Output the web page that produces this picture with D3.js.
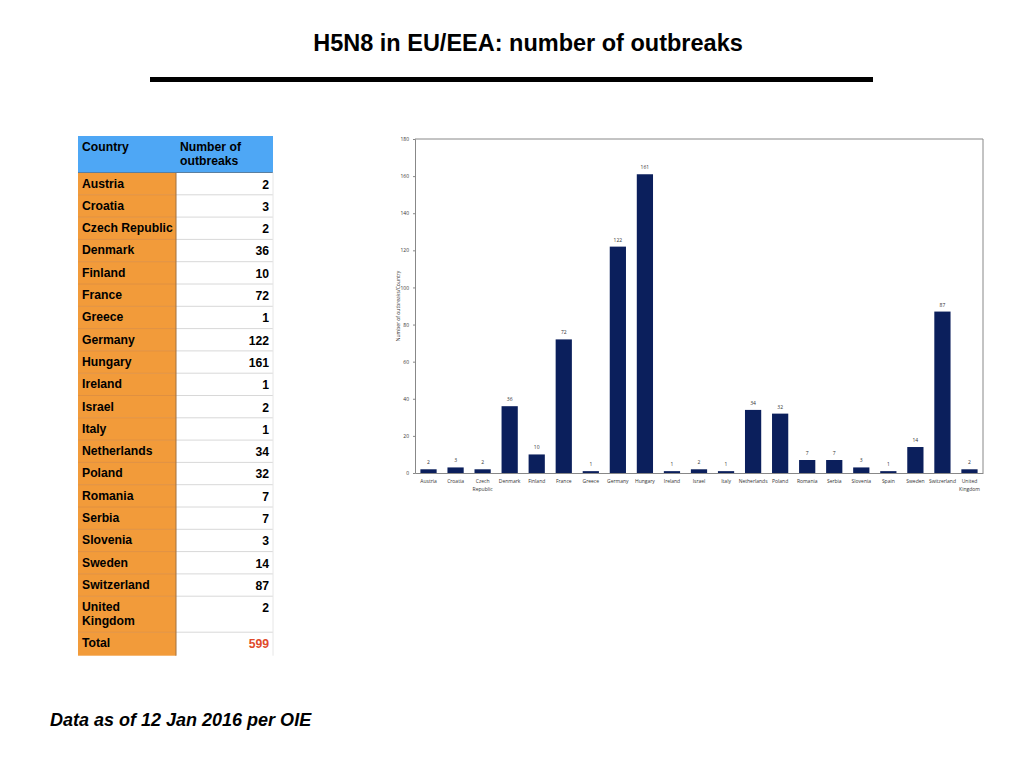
<!DOCTYPE html>
<html>
<head>
<meta charset="utf-8">
<script src="https://cdn.jsdelivr.net/npm/d3@7.9.0/dist/d3.min.js"></script>
<style>
  body { margin: 0; background: #fff; }
  svg { display: block; }
</style>
</head>
<body>
<script>
// Table data (no Spain in the table)
const tableCountries = ["Austria", "Croatia", "Czech Republic", "Denmark", "Finland", "France", "Greece",
  "Germany", "Hungary", "Ireland", "Israel", "Italy", "Netherlands", "Poland", "Romania", "Serbia",
  "Slovenia", "Sweden", "Switzerland", "United Kingdom"];
const tableValues = [2, 3, 2, 36, 10, 72, 1, 122, 161, 1, 2, 1, 34, 32, 7, 7, 3, 14, 87, 2];
const tableTotal = 599;

// Chart data
const chartCountries = ["Austria", "Croatia", "Czech Republic", "Denmark", "Finland", "France", "Greece",
  "Germany", "Hungary", "Ireland", "Israel", "Italy", "Netherlands", "Poland", "Romania", "Serbia",
  "Slovenia", "Spain", "Sweden", "Switzerland", "United Kingdom"];
const chartValues = [2, 3, 2, 36, 10, 72, 1, 122, 161, 1, 2, 1, 34, 32, 7, 7, 3, 1, 14, 87, 2];
const yTicks = [0, 20, 40, 60, 80, 100, 120, 140, 160, 180];

const svg = d3.select("body").append("svg").attr("width", 1024).attr("height", 768);
const sans = "'Liberation Sans', Arial, Helvetica, sans-serif";

// Title and rule
svg.append("text")
  .attr("x", 528).attr("y", 51)
  .attr("text-anchor", "middle")
  .style("font-family", sans).style("font-weight", "bold").style("font-size", "23.5px")
  .text("H5N8 in EU/EEA: number of outbreaks");
svg.append("rect").attr("x", 150).attr("y", 77).attr("width", 723).attr("height", 5).attr("fill", "#000");

// Footer
svg.append("text")
  .attr("x", 50).attr("y", 726)
  .style("font-family", sans).style("font-weight", "bold").style("font-style", "italic").style("font-size", "18px")
  .text("Data as of 12 Jan 2016 per OIE");

// ---- Table ----
const tX = 78, tMid = 176, tR = 273, headTop = 136, headBot = 172.5;
const rowH = 22.3;
const cellFont = "12.2px";
const rows = tableCountries.map((c, i) => ({ name: c, value: tableValues[i], h: c === "United Kingdom" ? 36 : rowH }));
rows.push({ name: "Total", value: tableTotal, h: 23.5, total: true });
let yy = headBot;
rows.forEach(r => { r.y = yy; yy += r.h; });

const table = svg.append("g");
table.append("rect").attr("x", tX).attr("y", headTop).attr("width", tR - tX).attr("height", headBot - headTop).attr("fill", "#4ea7f5");
table.append("text").attr("x", tX + 4).attr("y", headTop + 15)
  .style("font-family", sans).style("font-weight", "bold").style("font-size", cellFont).text("Country");
table.append("text").attr("x", tMid + 4).attr("y", headTop + 15)
  .style("font-family", sans).style("font-weight", "bold").style("font-size", cellFont)
  .selectAll("tspan").data(["Number of", "outbreaks"]).enter().append("tspan")
  .attr("x", tMid + 4).attr("dy", (d, i) => i ? 14 : 0).text(d => d);

const rg = table.selectAll("g.row").data(rows).enter().append("g").attr("class", "row");
rg.append("rect").attr("x", tX).attr("y", d => d.y).attr("width", tMid - tX).attr("height", d => d.h).attr("fill", "#f29b3a");
rg.append("rect").attr("x", tMid).attr("y", d => d.y).attr("width", tR - tMid).attr("height", d => d.h).attr("fill", "#fff");
rg.append("line").attr("x1", tX).attr("x2", tMid).attr("y1", d => d.y).attr("y2", d => d.y)
  .attr("stroke", "#e09040").attr("stroke-width", 1);
rg.append("line").attr("x1", tMid).attr("x2", tR).attr("y1", d => d.y).attr("y2", d => d.y)
  .attr("stroke", "#d8d8d8").attr("stroke-width", 1);
rg.append("text").attr("x", tX + 4).attr("y", d => d.y + 15)
  .style("font-family", sans).style("font-weight", "bold").style("font-size", cellFont)
  .each(function(d) {
    const parts = d.name === "United Kingdom" ? ["United", "Kingdom"] : [d.name];
    d3.select(this).selectAll("tspan").data(parts).enter().append("tspan")
      .attr("x", tX + 4).attr("dy", (p, i) => i ? 14 : 0).text(p => p);
  });
rg.append("text").attr("x", tR - 4).attr("y", d => d.y + 16)
  .attr("text-anchor", "end")
  .attr("fill", d => d.total ? "#e04a2a" : "#000")
  .style("font-family", sans).style("font-weight", "bold").style("font-size", cellFont)
  .text(d => d.value);
table.append("line").attr("x1", tMid).attr("x2", tMid).attr("y1", headBot).attr("y2", yy)
  .attr("stroke", "#a07040").attr("stroke-width", 1);
table.append("line").attr("x1", tX).attr("x2", tR).attr("y1", headBot).attr("y2", headBot)
  .attr("stroke", "#5a7fa0").attr("stroke-width", 1);
table.append("line").attr("x1", tR).attr("x2", tR).attr("y1", headBot).attr("y2", yy)
  .attr("stroke", "#e6e6e6").attr("stroke-width", 1);

// ---- Bar chart ----
const cL = 415, cR = 983, cT = 139, cB = 473;
const chartFont = "'Open Sans', 'DejaVu Sans', sans-serif";
const x = d3.scaleBand().domain(chartCountries).range([cL, cR]).paddingInner(0.4).paddingOuter(0.2);
const y = d3.scaleLinear().domain([0, 180]).range([cB, cT]);

const chart = svg.append("g");
// frame (top, right)
chart.append("path").attr("d", `M${cL},${cT}H${cR}V${cB}`).attr("fill", "none").attr("stroke", "#888").attr("stroke-width", 1);

const yAxis = chart.append("g").attr("transform", `translate(${cL},0)`)
  .call(d3.axisLeft(y).tickValues(yTicks).tickSize(2).tickPadding(4));
yAxis.select(".domain").attr("stroke", "#888");
yAxis.selectAll(".tick line").attr("stroke", "#888");
yAxis.selectAll("text").style("font-family", chartFont).style("font-size", "5px").attr("fill", "#333");

chart.selectAll("rect.bar").data(chartValues).enter().append("rect").attr("class", "bar")
  .attr("x", (d, i) => x(chartCountries[i]))
  .attr("y", d => y(d))
  .attr("width", x.bandwidth())
  .attr("height", d => y(0) - y(d))
  .attr("fill", "#0b1f5c");

chart.selectAll("text.val").data(chartValues).enter().append("text").attr("class", "val")
  .attr("x", (d, i) => x(chartCountries[i]) + x.bandwidth() / 2)
  .attr("y", d => y(d) - 5)
  .attr("text-anchor", "middle")
  .style("font-family", chartFont).style("font-size", "5px").attr("fill", "#333")
  .text(d => d);

const xAxis = chart.append("g").attr("transform", `translate(0,${cB})`)
  .call(d3.axisBottom(x).tickSize(0).tickPadding(6));
xAxis.select(".domain").attr("stroke", "#888");
xAxis.selectAll("text").style("font-family", chartFont).style("font-size", "5px").attr("fill", "#333")
  .each(function(d) {
    const t = d3.select(this);
    const parts = d === "Czech Republic" ? ["Czech", "Republic"] : d === "United Kingdom" ? ["United", "Kingdom"] : [d];
    if (parts.length > 1) {
      t.text(null);
      parts.forEach((p, i) => t.append("tspan").attr("x", 0).attr("dy", i ? "1.7em" : "0.71em").text(p));
    }
  });

chart.append("text")
  .attr("transform", `translate(400,${(cT + cB) / 2}) rotate(-90)`)
  .attr("text-anchor", "middle")
  .style("font-family", chartFont).style("font-size", "5px").attr("fill", "#333")
  .text("Number of outbreaks/Country");
</script>
</body>
</html>
